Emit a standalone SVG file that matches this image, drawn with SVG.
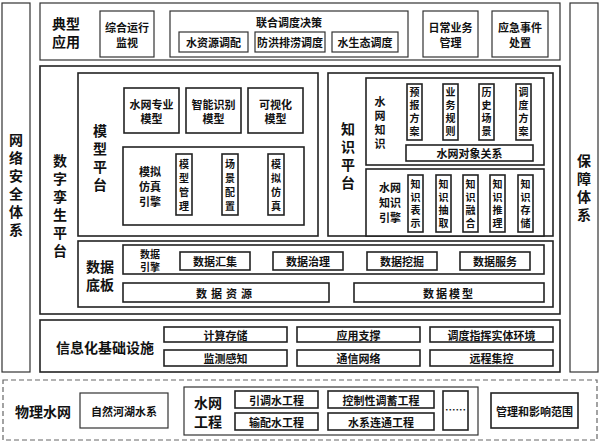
<svg xmlns="http://www.w3.org/2000/svg" width="600" height="443" viewBox="0 0 600 443">
<style>
text{font-family:"Noto Sans CJK SC","Liberation Sans",sans-serif;font-weight:bold;fill:#111;text-anchor:middle;dominant-baseline:central}
.o{fill:#fff;stroke:#333;stroke-width:1.2}
.b{fill:#fff;stroke:#222;stroke-width:1.6}
.t{font-size:14px}
.m{font-size:11px}
.v{font-size:10px}
.s{font-size:10.5px}
.d{fill:none;stroke:#666;stroke-width:1.2;stroke-dasharray:5,3}
</style>
<g id="sec-left"><rect class="o" x="2" y="3" width="28" height="369"/>
<text class="t"><tspan x="16" y="139">网</tspan><tspan x="16" y="157">络</tspan><tspan x="16" y="175">安</tspan><tspan x="16" y="193">全</tspan><tspan x="16" y="211">体</tspan><tspan x="16" y="229">系</tspan></text></g>
<g id="sec-right"><rect class="o" x="570" y="3" width="28" height="369"/>
<text class="t"><tspan x="584" y="160">保</tspan><tspan x="584" y="178">障</tspan><tspan x="584" y="196">体</tspan><tspan x="584" y="214">系</tspan></text></g>
<g id="app"><rect class="o" x="40" y="3" width="520" height="57"/>
<text class="t"><tspan x="66" y="23">典型</tspan><tspan x="66" y="41">应用</tspan></text>
<rect class="o" x="100" y="11" width="54" height="46"/><text class="m"><tspan x="127" y="27">综合运行</tspan><tspan x="127" y="42">监视</tspan></text>
<rect class="o" x="170" y="11" width="238" height="46"/><text class="m" x="289" y="22">联合调度决策</text>
<rect class="o" x="179" y="32" width="69" height="20"/><text class="m" x="213.5" y="42">水资源调配</text>
<rect class="o" x="255" y="32" width="70" height="20"/><text class="m" x="290" y="42">防洪排涝调度</text>
<rect class="o" x="332" y="32" width="66" height="20"/><text class="m" x="365" y="42">水生态调度</text>
<rect class="o" x="423" y="11" width="55" height="46"/><text class="m"><tspan x="450.5" y="27">日常业务</tspan><tspan x="450.5" y="42">管理</tspan></text>
<rect class="o" x="492" y="11" width="56" height="46"/><text class="m"><tspan x="520" y="27">应急事件</tspan><tspan x="520" y="42">处置</tspan></text></g>
<g id="twin"><rect class="b" x="40" y="66" width="520" height="248"/>
<text class="t"><tspan x="60" y="160">数</tspan><tspan x="60" y="178">字</tspan><tspan x="60" y="196">孪</tspan><tspan x="60" y="214">生</tspan><tspan x="60" y="232">平</tspan><tspan x="60" y="250">台</tspan></text></g>
<g id="model"><rect class="b" x="78" y="73" width="240" height="163"/>
<text class="t"><tspan x="100" y="130">模</tspan><tspan x="100" y="148">型</tspan><tspan x="100" y="166">平</tspan><tspan x="100" y="184">台</tspan></text>
<rect class="b" x="124" y="88" width="55" height="45"/><text class="m"><tspan x="151.5" y="104">水网专业</tspan><tspan x="151.5" y="118">模型</tspan></text>
<rect class="b" x="186" y="88" width="55" height="45"/><text class="m"><tspan x="213.5" y="104">智能识别</tspan><tspan x="213.5" y="118">模型</tspan></text>
<rect class="b" x="248" y="88" width="55" height="45"/><text class="m"><tspan x="275.5" y="104">可视化</tspan><tspan x="275.5" y="118">模型</tspan></text>
<rect class="b" x="123" y="147" width="181" height="78"/>
<text class="m"><tspan x="150" y="171">模拟</tspan><tspan x="150" y="186">仿真</tspan><tspan x="150" y="201">引擎</tspan></text>
<rect class="b" x="176" y="154" width="16" height="61"/><text class="v"><tspan x="184" y="163">模</tspan><tspan x="184" y="177">型</tspan><tspan x="184" y="191">管</tspan><tspan x="184" y="205">理</tspan></text>
<rect class="b" x="222" y="154" width="16" height="61"/><text class="v"><tspan x="230" y="163">场</tspan><tspan x="230" y="177">景</tspan><tspan x="230" y="191">配</tspan><tspan x="230" y="205">置</tspan></text>
<rect class="b" x="268" y="154" width="16" height="61"/><text class="v"><tspan x="276" y="163">模</tspan><tspan x="276" y="177">拟</tspan><tspan x="276" y="191">仿</tspan><tspan x="276" y="205">真</tspan></text></g>
<g id="know"><rect class="b" x="328" y="73" width="225" height="163"/>
<text class="t"><tspan x="348" y="128">知</tspan><tspan x="348" y="146">识</tspan><tspan x="348" y="164">平</tspan><tspan x="348" y="182">台</tspan></text>
<rect class="b" x="366" y="78" width="178" height="87"/>
<text class="m"><tspan x="380" y="101">水</tspan><tspan x="380" y="115">网</tspan><tspan x="380" y="129">知</tspan><tspan x="380" y="143">识</tspan></text>
<rect class="b" x="407" y="84" width="15" height="56"/><text class="v"><tspan x="414.5" y="91">预</tspan><tspan x="414.5" y="104">报</tspan><tspan x="414.5" y="117">方</tspan><tspan x="414.5" y="130">案</tspan></text>
<rect class="b" x="443" y="84" width="15" height="56"/><text class="v"><tspan x="450.5" y="91">业</tspan><tspan x="450.5" y="104">务</tspan><tspan x="450.5" y="117">规</tspan><tspan x="450.5" y="130">则</tspan></text>
<rect class="b" x="479" y="84" width="15" height="56"/><text class="v"><tspan x="486.5" y="91">历</tspan><tspan x="486.5" y="104">史</tspan><tspan x="486.5" y="117">场</tspan><tspan x="486.5" y="130">景</tspan></text>
<rect class="b" x="516" y="84" width="15" height="56"/><text class="v"><tspan x="523.5" y="91">调</tspan><tspan x="523.5" y="104">度</tspan><tspan x="523.5" y="117">方</tspan><tspan x="523.5" y="130">案</tspan></text>
<rect class="b" x="406" y="145" width="127" height="16"/><text class="m" x="469.5" y="153">水网对象关系</text>
<rect class="b" x="366" y="169" width="178" height="67"/>
<text class="m"><tspan x="390" y="187">水网</tspan><tspan x="390" y="202">知识</tspan><tspan x="390" y="217">引擎</tspan></text>
<rect class="b" x="408" y="175" width="15" height="57"/><text class="v"><tspan x="415.5" y="183">知</tspan><tspan x="415.5" y="196">识</tspan><tspan x="415.5" y="209">表</tspan><tspan x="415.5" y="222">示</tspan></text>
<rect class="b" x="436" y="175" width="15" height="57"/><text class="v"><tspan x="443.5" y="183">知</tspan><tspan x="443.5" y="196">识</tspan><tspan x="443.5" y="209">抽</tspan><tspan x="443.5" y="222">取</tspan></text>
<rect class="b" x="463" y="175" width="15" height="57"/><text class="v"><tspan x="470.5" y="183">知</tspan><tspan x="470.5" y="196">识</tspan><tspan x="470.5" y="209">融</tspan><tspan x="470.5" y="222">合</tspan></text>
<rect class="b" x="490" y="175" width="15" height="57"/><text class="v"><tspan x="497.5" y="183">知</tspan><tspan x="497.5" y="196">识</tspan><tspan x="497.5" y="209">推</tspan><tspan x="497.5" y="222">理</tspan></text>
<rect class="b" x="518" y="175" width="15" height="57"/><text class="v"><tspan x="525.5" y="183">知</tspan><tspan x="525.5" y="196">识</tspan><tspan x="525.5" y="209">存</tspan><tspan x="525.5" y="222">储</tspan></text></g>
<g id="data"><rect class="b" x="78" y="241" width="475" height="66"/>
<text class="t"><tspan x="100" y="266">数据</tspan><tspan x="100" y="284">底板</tspan></text>
<rect class="b" x="123" y="245" width="421" height="29"/>
<text class="v"><tspan x="150" y="253">数据</tspan><tspan x="150" y="266">引擎</tspan></text>
<rect class="b" x="180" y="252" width="70" height="18"/><text class="m" x="215" y="261">数据汇集</text>
<rect class="b" x="273" y="252" width="70" height="18"/><text class="m" x="308" y="261">数据治理</text>
<rect class="b" x="367" y="252" width="70" height="18"/><text class="m" x="402" y="261">数据挖掘</text>
<rect class="b" x="460" y="252" width="70" height="18"/><text class="m" x="495" y="261">数据服务</text>
<rect class="b" x="123" y="283" width="206" height="19"/><text class="m" x="226" y="292.5" letter-spacing="4">数据资源</text>
<rect class="b" x="354" y="283" width="190" height="19"/><text class="m" x="449" y="292.5" letter-spacing="2">数据模型</text></g>
<g id="infra"><rect class="b" x="40" y="320" width="520" height="52"/>
<text class="t" x="105" y="347">信息化基础设施</text>
<rect class="b" x="164" y="327" width="123" height="15"/><text class="m" x="225.5" y="334.5">计算存储</text>
<rect class="b" x="297" y="327" width="123" height="15"/><text class="m" x="358.5" y="334.5">应用支撑</text>
<rect class="b" x="430" y="327" width="123" height="15"/><text class="m" x="491.5" y="334.5">调度指挥实体环境</text>
<rect class="b" x="164" y="350" width="123" height="16"/><text class="m" x="225.5" y="358">监测感知</text>
<rect class="b" x="297" y="350" width="123" height="16"/><text class="m" x="358.5" y="358">通信网络</text>
<rect class="b" x="430" y="350" width="123" height="16"/><text class="m" x="491.5" y="358">远程集控</text></g>
<g id="physical"><rect class="d" x="3" y="380" width="594" height="60"/>
<text class="t" x="43" y="411">物理水网</text>
<rect class="o" x="80" y="393" width="88" height="35"/><text class="m" x="124" y="410.5">自然河湖水系</text>
<rect class="o" x="184" y="387" width="294" height="48"/>
<text class="t"><tspan x="208" y="402">水网</tspan><tspan x="208" y="421">工程</tspan></text>
<rect class="b" x="235" y="391" width="83" height="17"/><text class="m" x="276.5" y="399.5">引调水工程</text>
<rect class="b" x="235" y="413" width="83" height="17"/><text class="m" x="276.5" y="421.5">输配水工程</text>
<rect class="b" x="328" y="391" width="106" height="17"/><text class="m" x="381" y="399.5">控制性调蓄工程</text>
<rect class="b" x="328" y="413" width="106" height="17"/><text class="m" x="381" y="421.5">水系连通工程</text>
<rect class="b" x="443" y="391" width="25" height="39"/><text class="s" x="455.5" y="409">……</text>
<rect class="b" x="491" y="393" width="87" height="35"/><text class="m" x="534.5" y="410.5">管理和影响范围</text></g>
<g id="connectors"/>
</svg>
